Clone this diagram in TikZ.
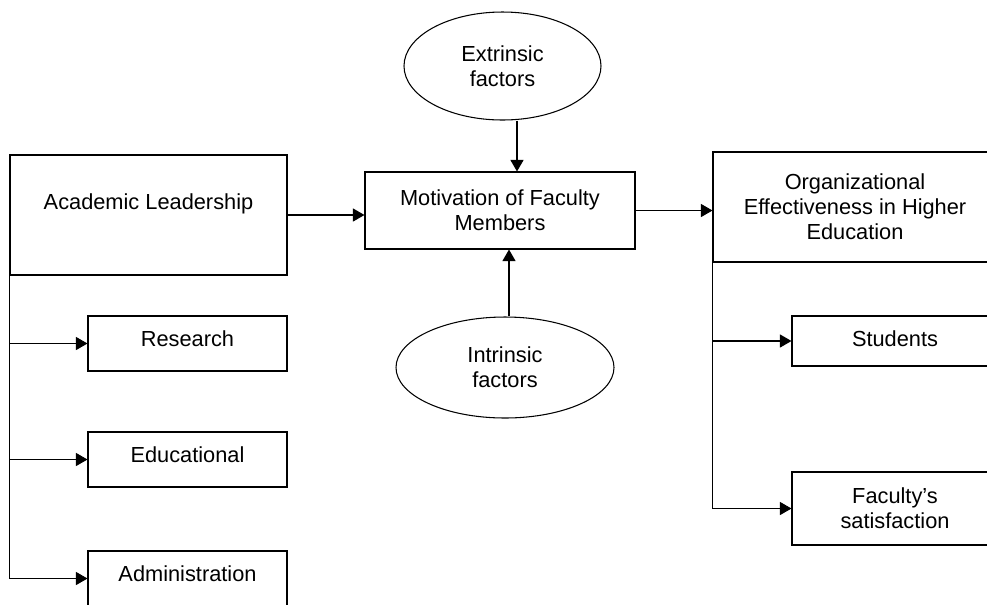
\documentclass[tikz,border=0pt]{standalone}
\usepackage{fontspec}
\setmainfont{Liberation Sans}
\usepackage{tikz}
\usetikzlibrary{positioning, shapes.geometric, arrows.meta}

\begin{document}
\begin{tikzpicture}[>={Triangle[length=0.23cm, width=0.26cm]}, line width=0.6pt, on grid,
	font=\fontsize{12.4}{14.2}\selectfont,
	box/.style={draw, rectangle, align=center, inner sep=2pt},
	factor/.style={draw, ellipse, align=center, inner sep=0pt},
	leaf/.style={box, minimum width=3.98cm, minimum height=1.1cm, text depth=0.2cm}]
	\clip (0,0) rectangle (19.74,-12.08);
	\node[box, minimum width=5.4cm, minimum height=1.54cm] (motiv) at (10,-4.21) {Motivation of Faculty\\Members};
	\node[factor, minimum width=3.94cm, minimum height=2.16cm] (ext) [above right=2.89cm and 0.05cm of motiv] {Extrinsic\\factors};
	\node[factor, minimum width=4.36cm, minimum height=2.02cm] (intr) [below right=3.14cm and 0.1cm of motiv] {Intrinsic\\factors};
	\node[box, minimum width=5.54cm, minimum height=2.4cm, text depth=0.52cm] (lead) [below left=0.09cm and 7.03cm of motiv] {Academic Leadership};
	\node[box, minimum width=5.68cm, minimum height=2.2cm] (org) [above right=0.07cm and 7.1cm of motiv] {Organizational\\Effectiveness in Higher\\Education};
	\node[leaf] (res) [below right=2.57cm and 0.78cm of lead] {Research};
	\node[leaf] (edu) [below=2.32cm of res] {Educational};
	\node[leaf] (adm) [below=2.38cm of edu] {Administration};
	\node[leaf, minimum width=4.12cm, minimum height=1cm, text depth=0.1cm] (stud) [below right=2.68cm and 0.8cm of org] {Students};
	\node[box, minimum width=4.12cm, minimum height=1.46cm] (fac) [below=3.35cm of stud] {Faculty’s\\satisfaction};
	\path[->]
	(lead.east) edge (lead.east -| motiv.west)
	(motiv.east) edge (motiv.east -| org.west)
	([xshift=0.29cm]ext.south) edge ([xshift=0.29cm]ext.south |- motiv.north)
	([xshift=0.08cm]intr.north) edge ([xshift=0.08cm]intr.north |- motiv.south)
	;
	% branches
	\draw[->] (lead.south west) |- (adm.west);
	\draw[->] (lead.south west |- res.west) -- (res.west);
	\draw[->] (lead.south west |- edu.west) -- (edu.west);
	\draw[->] (org.south west) |- (fac.west);
	\draw[->] (org.south west |- stud.west) -- (stud.west);
\end{tikzpicture}
\end{document}
